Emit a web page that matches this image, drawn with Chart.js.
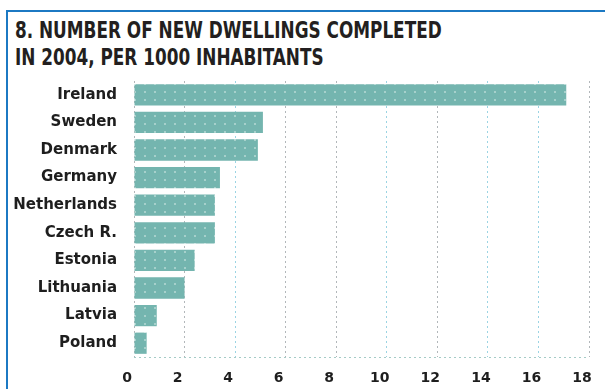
<!DOCTYPE html>
<html>
<head>
<meta charset="utf-8">
<script src="https://cdn.jsdelivr.net/npm/chart.js@4/dist/chart.umd.min.js"></script>
<style>
  html, body { margin: 0; padding: 0; background: #fff; }
  body { width: 605px; height: 389px; position: relative; overflow: hidden; }
  #frame {
    position: absolute; left: 6px; top: 10px; width: 620px; height: 400px;
    border-left: 2px solid #1c79c3; border-top: 2px solid #1c79c3;
  }
  #title {
    position: absolute; left: 15px; top: 17px;
    font-family: "DejaVu Sans Condensed", "Liberation Sans Narrow", sans-serif;
    font-weight: bold; font-size: 23px; line-height: 27px; color: #231f20;
    white-space: nowrap;
    transform: scaleX(0.815); transform-origin: 0 0;
  }
  #wrap { position: absolute; left: 0; top: 0; width: 605px; height: 389px; }
</style>
</head>
<body>
<div id="frame"></div>
<div id="title">8. NUMBER OF NEW DWELLINGS COMPLETED<br>IN 2004, PER 1000 INHABITANTS</div>
<div id="wrap"><canvas id="c" width="605" height="389"></canvas></div>
<script>
// Dwellings completed in 2004 per 1000 inhabitants
const countries = ["Ireland", "Sweden", "Denmark", "Germany", "Netherlands", "Czech R.", "Estonia", "Lithuania", "Latvia", "Poland"];
const dwellings = [17.1, 5.1, 4.9, 3.4, 3.2, 3.2, 2.4, 2.0, 0.9, 0.5];
const xTicks = [0, 2, 4, 6, 8, 10, 12, 14, 16, 18];

// dotted teal fill for the bars
function dottedFill() {
  const p = document.createElement("canvas");
  p.width = 10; p.height = 8;
  const g = p.getContext("2d");
  g.fillStyle = "#74b5af";
  g.fillRect(0, 0, 10, 8);
  g.fillStyle = "#a6d0cb";
  g.fillRect(4, 3, 2, 2);
  return g.createPattern(p, "repeat");
}

const ctx = document.getElementById("c").getContext("2d");
const labelFont = { family: "DejaVu Sans", weight: "bold", size: 15 };
const blueLines = [4, 10, 14, 16];

new Chart(ctx, {
  type: "bar",
  data: {
    labels: countries,
    datasets: [{
      data: dwellings,
      backgroundColor: dottedFill(),
      borderWidth: 0,
      categoryPercentage: 1,
      barPercentage: 0.77
    }]
  },
  options: {
    indexAxis: "y",
    responsive: false,
    animation: false,
    layout: { padding: { top: 81, right: 16, bottom: 0, left: 0 } },
    plugins: { legend: { display: false }, tooltip: { enabled: false }, title: { display: false } },
    scales: {
      x: {
        min: 0, max: 18,
        z: 1,
        afterBuildTicks: (s) => { s.ticks = xTicks.map(v => ({ value: v })); },
        afterFit: (s) => { s.height = 32; s.paddingLeft = 0; s.paddingRight = 0; },
        ticks: { font: { family: "DejaVu Sans", weight: "bold", size: 14 }, color: "#1e1e1e", padding: 13, labelOffset: -7, maxRotation: 0 },
        grid: {
          drawTicks: false,
          lineWidth: 1,
          color: (c) => blueLines.includes(c.tick && c.tick.value) ? "rgba(150,210,225,0.95)" : "rgba(170,175,178,0.9)"
        },
        border: { display: false, dash: [2, 3] }
      },
      y: {
        afterFit: (s) => { s.width = 134; s.paddingTop = 0; s.paddingBottom = 0; },
        ticks: { font: labelFont, color: "#1e1e1e", padding: 17 },
        grid: {
          drawTicks: false,
          lineWidth: 1,
          color: (c) => c.type === "scale" ? "rgba(160,200,195,0.95)" : "rgba(0,0,0,0)"
        },
        border: { display: false, dash: [2, 3] }
      }
    }
  }
});
</script>
</body>
</html>
